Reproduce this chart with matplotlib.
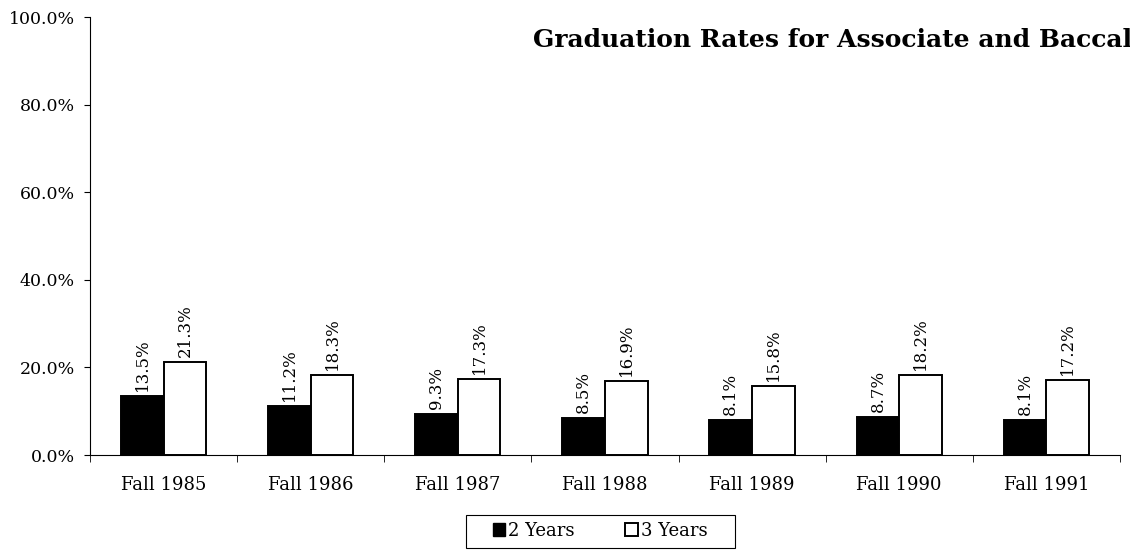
import matplotlib.pyplot as plt
from matplotlib.patches import Patch, Rectangle
from matplotlib.ticker import MultipleLocator
import numpy as np

cohorts = ["Fall 1985", "Fall 1986", "Fall 1987", "Fall 1988", "Fall 1989", "Fall 1990", "Fall 1991"]
two_years = [13.5, 11.2, 9.3, 8.5, 8.1, 8.7, 8.1]
three_years = [21.3, 18.3, 17.3, 16.9, 15.8, 18.2, 17.2]

plt.rcParams['font.family'] = ['DejaVu Serif']

fig = plt.figure(figsize=(11.3, 5.52), dpi=100)
ax = fig.add_axes([0.0796, 0.1757, 0.9115, 0.7935])

x = np.arange(len(cohorts))
w = 0.29
b1 = ax.bar(x - w / 2, two_years, w, color='black', edgecolor='black', linewidth=1.4)
b2 = ax.bar(x + w / 2, three_years, w, color='white', edgecolor='black', linewidth=1.4)

for bars, vals in [(b1, two_years), (b2, three_years)]:
    for bar, v in zip(bars, vals):
        ax.annotate(f"{v:.1f}%", (bar.get_x() + bar.get_width() / 2, v),
                    xytext=(0, 3.5), textcoords='offset points',
                    rotation=90, ha='center', va='bottom', fontsize=12)

ax.set_xlim(-0.5, len(cohorts) - 0.5)
ax.set_ylim(0, 100)
ax.yaxis.set_major_locator(MultipleLocator(20))
ax.set_yticklabels([f"{t:.1f}%" for t in ax.get_yticks()])
ax.set_xticks(x)
ax.set_xticklabels(cohorts)
ax.set_xticks(np.arange(-0.5, len(cohorts)), minor=True)
ax.tick_params(axis='x', which='major', length=0, pad=15, labelsize=13)
ax.tick_params(axis='x', which='minor', length=5, direction='out')
ax.tick_params(axis='y', length=4, direction='out', labelsize=12.5, pad=7)
ax.spines['top'].set_visible(False)
ax.spines['right'].set_visible(False)

# title runs off the right edge, as in the original
fig.text(533 / 1130, 1 - 40 / 552, "Graduation Rates for Associate and Baccalaureate Degrees",
         fontsize=18, fontweight='bold', va='center', ha='left')

handles = [Patch(facecolor='black', edgecolor='black', label='2 Years'),
           Patch(facecolor='white', edgecolor='black', linewidth=1.4, label='3 Years')]
leg = fig.legend(handles=handles, loc='center', bbox_to_anchor=(600 / 1130, 1 - 531 / 552),
                 ncol=2, frameon=False,
                 handlelength=0.7, handleheight=0.7, handletextpad=0.15,
                 columnspacing=2.8, fontsize=13)
fig.patches.append(Rectangle((466 / 1130, 1 - 548 / 552), 269 / 1130, 33 / 552,
                             transform=fig.transFigure, fill=False, edgecolor='black', linewidth=0.8))

fig.savefig("out.png", dpi=100)
